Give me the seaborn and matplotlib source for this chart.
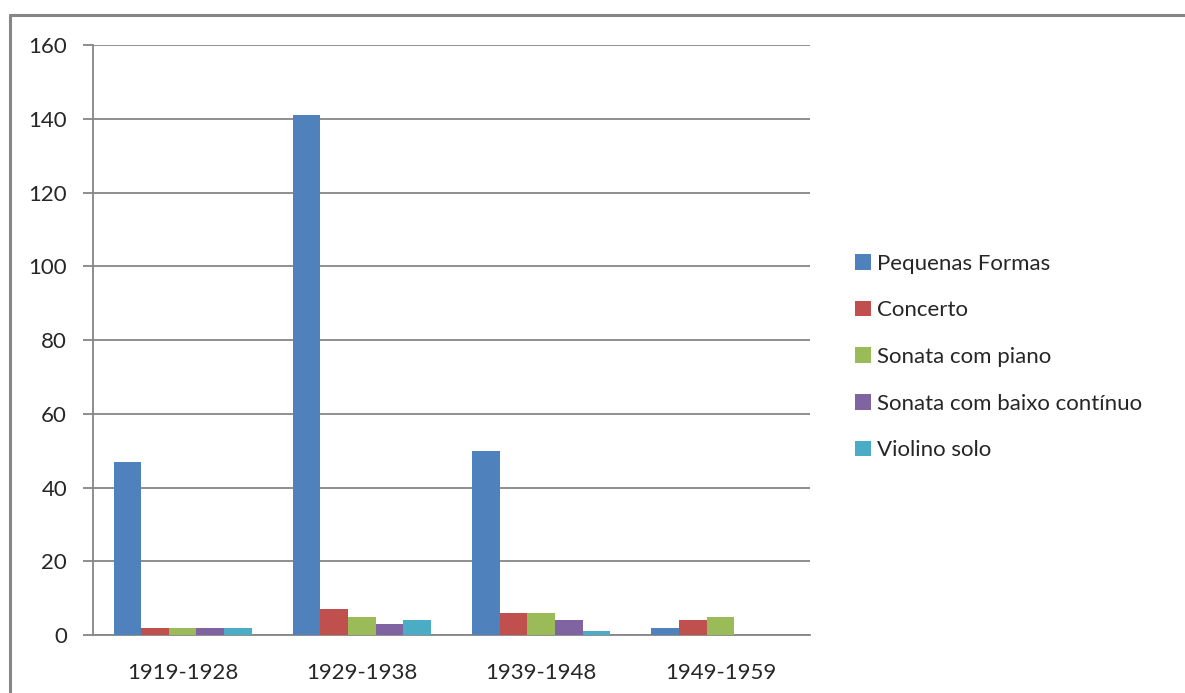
import numpy as np
import pandas as pd
import matplotlib
matplotlib.use("Agg")
import matplotlib.pyplot as plt
from matplotlib.lines import Line2D
import seaborn as sns

# ----- Data -----
periods = ["1919-1928", "1929-1938", "1939-1948", "1949-1959"]
series = ["Pequenas Formas", "Concerto", "Sonata com piano",
          "Sonata com baixo contínuo", "Violino solo"]
pequenas_formas = [47, 141, 50, 2]
concerto = [2, 7, 6, 4]
sonata_piano = [2, 5, 6, 5]
sonata_baixo = [2, 3, 4, 0]
violino_solo = [2, 4, 1, 0]
yticks = [0, 20, 40, 60, 80, 100, 120, 140, 160]

colors = ["#4F81BD", "#C0504D", "#9BBB59", "#8064A2", "#4BACC6"]

df = pd.DataFrame({
    "periodo": periods * 5,
    "serie": np.repeat(series, 4),
    "valor": pequenas_formas + concerto + sonata_piano + sonata_baixo + violino_solo,
})

# ----- Style -----
sns.set_style("white")
plt.rcParams["font.family"] = ["Lato", "DejaVu Sans"]
grey = "#868686"
fs = 16

fig = plt.figure(figsize=(11.85, 6.93), dpi=100)
ax = fig.add_axes([0.0785, 0.0837, 0.605, 0.8513])

sns.barplot(data=df, x="periodo", y="valor", hue="serie", order=periods,
            hue_order=series, palette=colors, width=0.77, saturation=1,
            errorbar=None, ax=ax, zorder=3, linewidth=0, edgecolor="none")

ax.set_ylim(0, 160)
ax.set_xlim(-0.5, len(periods) - 0.5)
ax.set_yticks(yticks)
ax.yaxis.grid(True, color=grey, linewidth=1.3, zorder=0)
ax.set_axisbelow(True)

# category boundary ticks + centred labels
ax.set_xticks(np.arange(len(periods) + 1) - 0.5)
ax.set_xticklabels([])
ax.set_xticks(np.arange(len(periods)), minor=True)
ax.set_xticklabels(periods, minor=True)
ax.tick_params(axis="x", which="major", length=7.2, width=1.3, color=grey, direction="out")
ax.tick_params(axis="x", which="minor", length=0, pad=20, labelsize=fs)
ax.tick_params(axis="y", length=7.2, width=1.3, color=grey, direction="out",
               pad=11.5, labelsize=fs, left=True)

for s in ["top", "right"]:
    ax.spines[s].set_visible(False)
for s in ["left", "bottom"]:
    ax.spines[s].set_color(grey)
    ax.spines[s].set_linewidth(1.3)

ax.set_xlabel("")
ax.set_ylabel("")

handles, labels = ax.get_legend_handles_labels()
ax.legend(handles, labels, loc="center left", bbox_to_anchor=(0.7215, 0.485),
          bbox_transform=fig.transFigure, frameon=False, fontsize=fs,
          handlelength=0.7, handleheight=0.7, handletextpad=0.3,
          labelspacing=1.2, borderpad=0, borderaxespad=0)

# outer chart frame (top and left edges visible)
fig.add_artist(Line2D([0.0085, 0.0085], [0, 0.978], color=grey, linewidth=2.2,
                      transform=fig.transFigure))
fig.add_artist(Line2D([0.0085, 1.0], [0.978, 0.978], color=grey, linewidth=2.2,
                      transform=fig.transFigure))

fig.savefig("out.png", dpi=100)
